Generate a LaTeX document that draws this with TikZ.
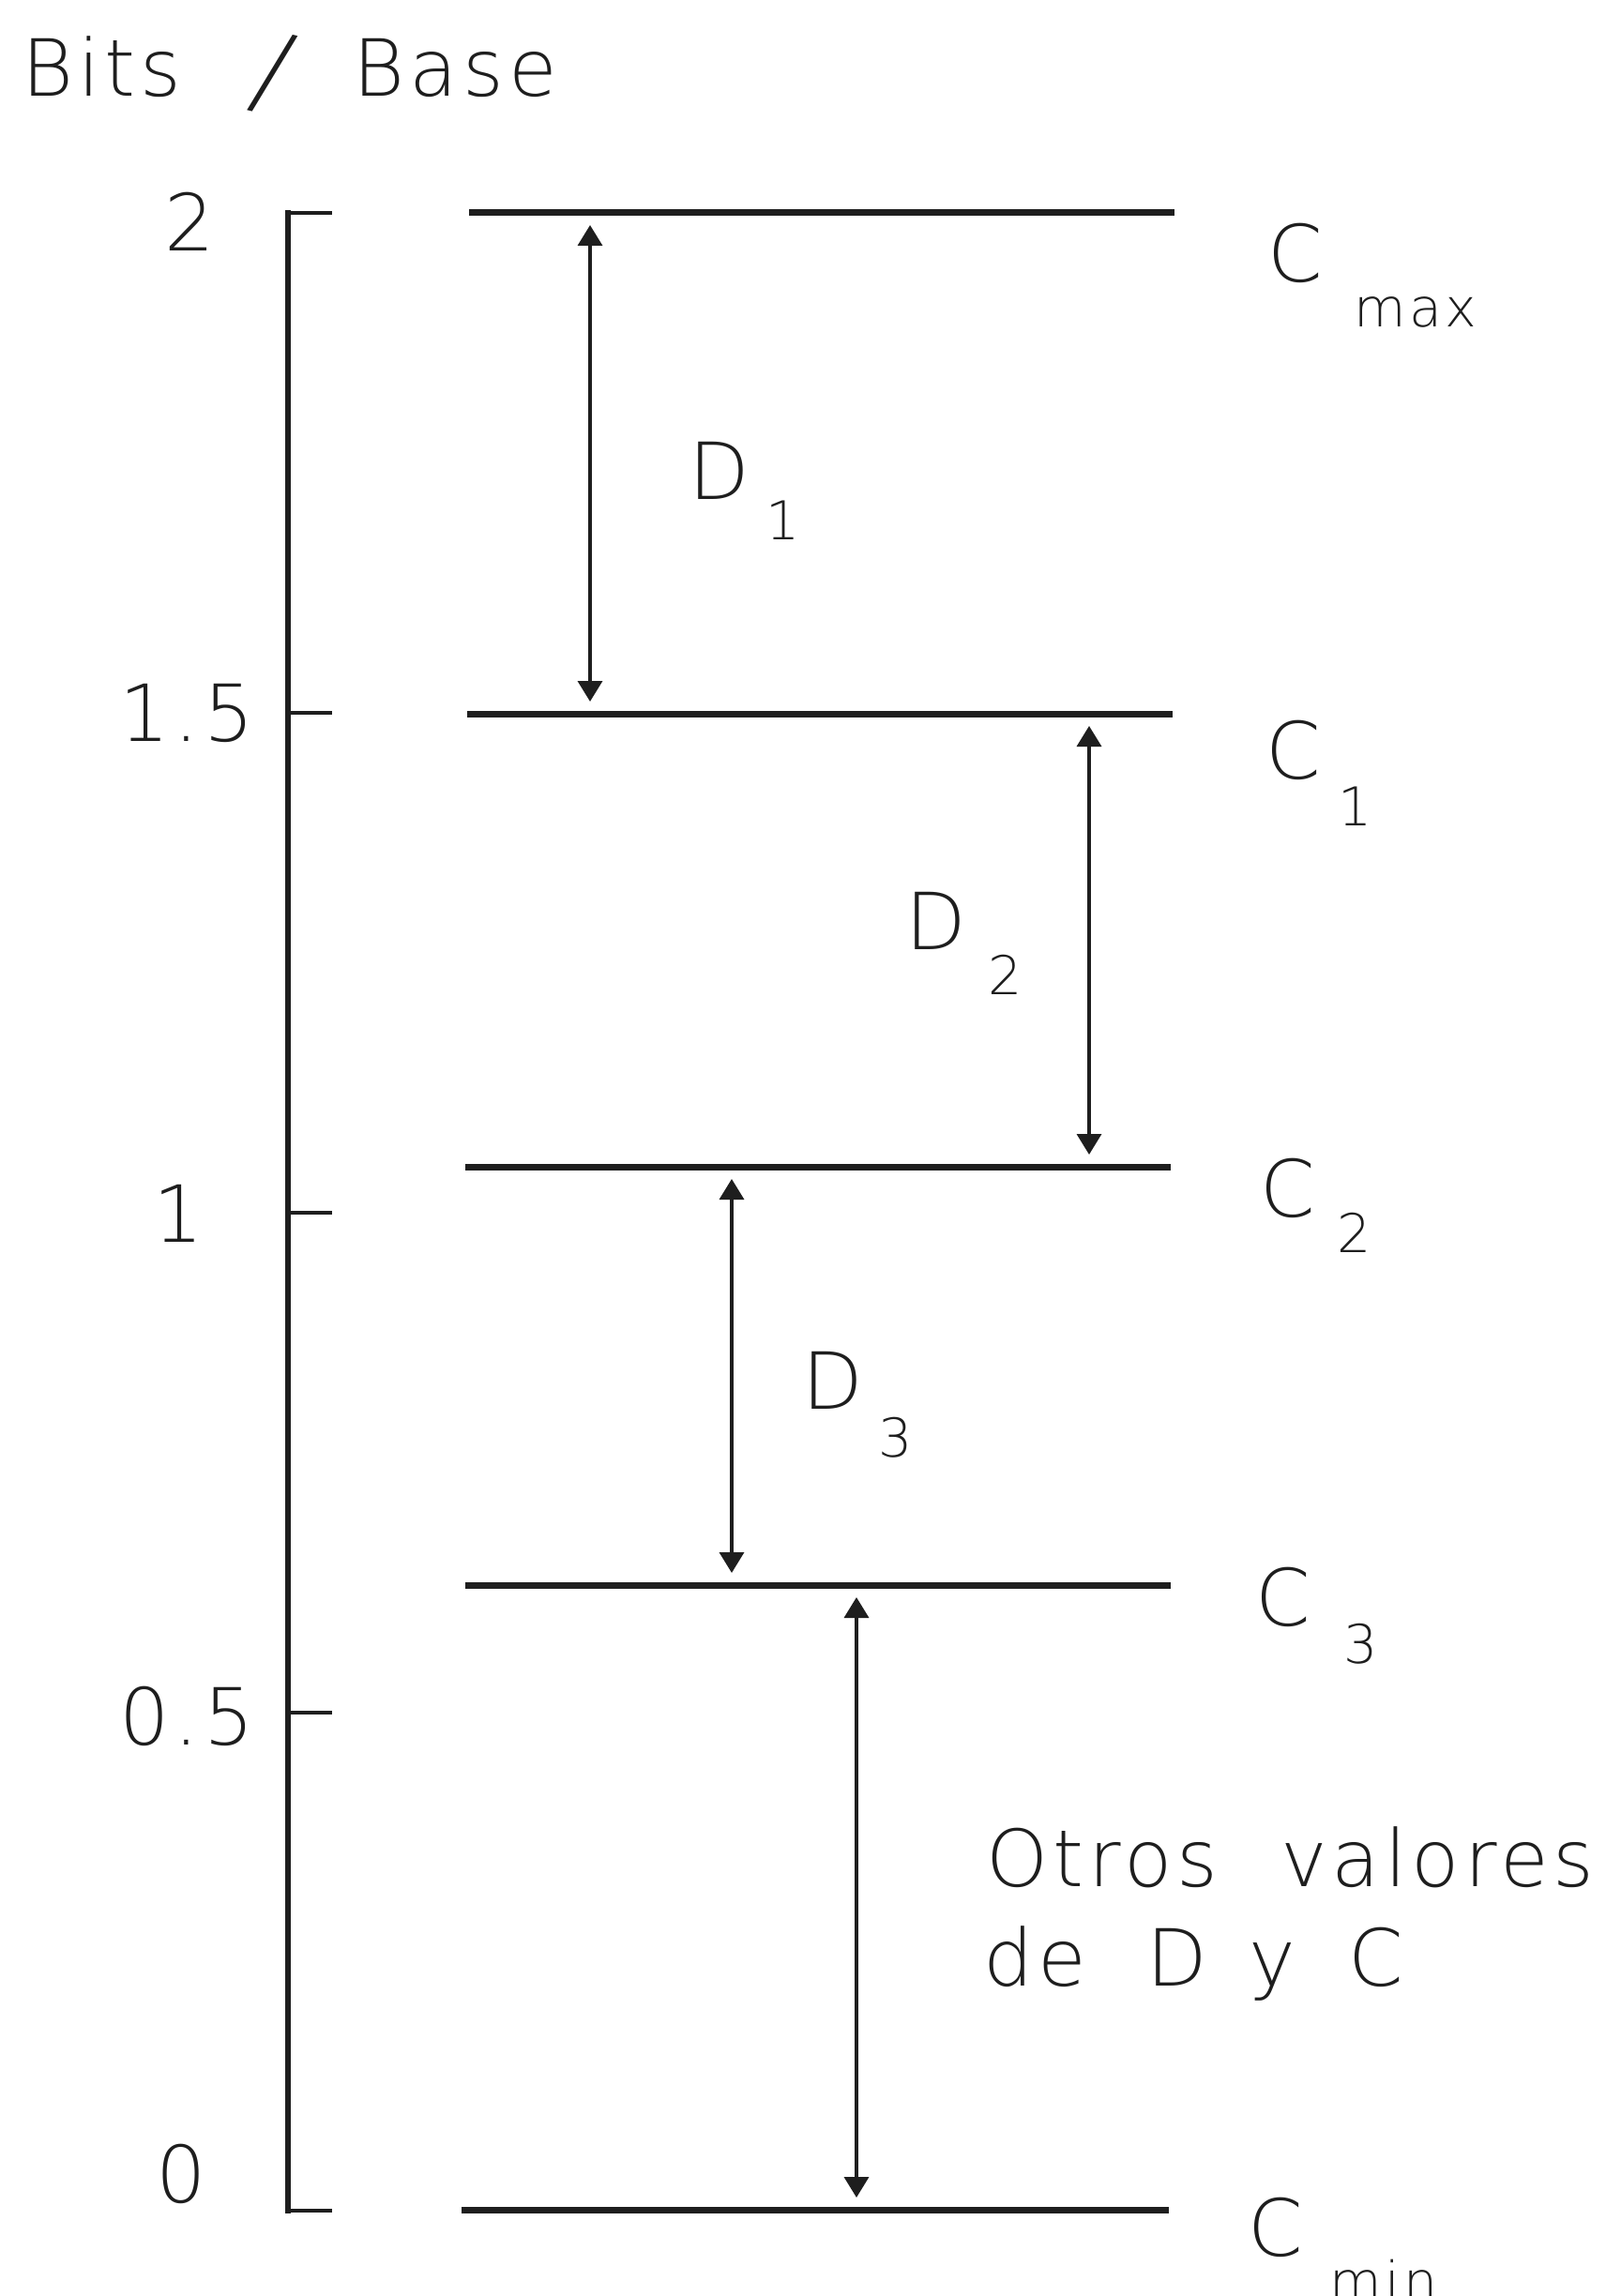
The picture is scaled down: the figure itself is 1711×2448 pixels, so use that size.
\documentclass[tikz,border=0pt]{standalone}
\usepackage{fontspec}
\IfFontExistsTF{DejaVu Sans ExtraLight}{\setmainfont{DejaVu Sans ExtraLight}}{\setmainfont{DejaVu Sans}}
\usetikzlibrary{arrows.meta}
\definecolor{ink}{HTML}{1E1E1E}
\tikzset{
  lbl/.style={anchor=base, inner sep=0pt, text=ink,
    font=\fontsize{84}{96}\selectfont\addfontfeatures{LetterSpace=6}},
  lblw/.style={lbl, anchor=base west},
  sublbl/.style={anchor=base, inner sep=0pt, text=ink,
    font=\fontsize{57}{64}\selectfont\addfontfeatures{LetterSpace=6}},
  levelline/.style={draw=ink, line width=7pt},
  axisline/.style={draw=ink, line width=5.5pt, line cap=rect},
  tickline/.style={draw=ink, line width=3.5pt},
  ticklab/.style={lbl},
  dimarrow/.style={draw=ink, line width=3.5pt,
    {Triangle[length=22pt,width=26pt]}-{Triangle[length=22pt,width=26pt]}},
}
\begin{document}
\begin{tikzpicture}[x=1pt,y=-1pt]
\useasboundingbox (0,0) rectangle (1711,2448);
\fill[white] (0,0) rectangle (1711,2448);

% title
\node[lblw] (title) at (23,103) {Bits\hspace{69pt}\raisebox{-10pt}{\rotatebox[origin=c]{-14}{\scalebox{1.3}{/}}}\hspace{57pt}Base};

% axis
\draw[axisline] (307,227) -- (307,2357);
\draw[tickline] (305,227) -- (354,227);
\draw[tickline] (305,2357) -- (354,2357);
\draw[tickline] (307,760) -- (354,760);
\draw[tickline] (307,1293) -- (354,1293);
\draw[tickline] (307,1826) -- (354,1826);

\node[ticklab] (t2)  at (202,268)  {2};
\node[ticklab] (t15) at (199,790)  {1.5};
\node[ticklab] (t1)  at (190,1324) {1};
\node[ticklab] (t05) at (199,1860) {0.5};
\node[ticklab] (t0)  at (193,2348) {0};

% level lines
\coordinate (cmaxL) at (500,227);  \coordinate (cmaxR) at (1252,227);
\coordinate (c1L)   at (498,761);  \coordinate (c1R)   at (1250,761);
\coordinate (c2L)   at (496,1244); \coordinate (c2R)   at (1248,1244);
\coordinate (c3L)   at (496,1690); \coordinate (c3R)   at (1248,1690);
\coordinate (cminL) at (492,2356); \coordinate (cminR) at (1246,2356);
\draw[levelline] (cmaxL) -- (cmaxR);
\draw[levelline] (c1L) -- (c1R);
\draw[levelline] (c2L) -- (c2R);
\draw[levelline] (c3L) -- (c3R);
\draw[levelline] (cminL) -- (cminR);

% dimension arrows
\coordinate (d1t) at (629,240);  \coordinate (d1b) at (629,748);
\coordinate (d2t) at (1161,774); \coordinate (d2b) at (1161,1231);
\coordinate (d3t) at (780,1257); \coordinate (d3b) at (780,1677);
\coordinate (d4t) at (913,1703); \coordinate (d4b) at (913,2343);
\draw[dimarrow] (d1t) -- (d1b);
\draw[dimarrow] (d2t) -- (d2b);
\draw[dimarrow] (d3t) -- (d3b);
\draw[dimarrow] (d4t) -- (d4b);

% C labels
\node[lbl] (cmax) at (1381,300) {C};
\node[sublbl] (cmaxs) at (1509,348) {max};
\node[lbl] (c1) at (1379,830) {C};
\node[sublbl] (c1s) at (1445,880) {1};
\node[lbl] (c2) at (1373,1297) {C};
\node[sublbl] (c2s) at (1444,1335) {2};
\node[lbl] (c3) at (1368,1733) {C};
\node[sublbl] (c3s) at (1451,1773) {3};
\node[lbl] (cmin) at (1360,2405) {C};
\node[sublbl] (cmins) at (1475,2452) {min};

% D labels
\node[lbl] (d1) at (767,532) {D};
\node[sublbl] (d1s) at (835,575) {1};
\node[lbl] (d2) at (998,1012) {D};
\node[sublbl] (d2s) at (1072,1060) {2};
\node[lbl] (d3) at (888,1502) {D};
\node[sublbl] (d3s) at (955,1553) {3};

% other values
\node[lblw] (otros1) at (1051,2011) {Otros\hspace{67pt}valores};
\node[lblw] (otros2) at (1048,2117) {de\hspace{64pt}D\hspace{45pt}y\hspace{56pt}C};
\end{tikzpicture}
\end{document}
